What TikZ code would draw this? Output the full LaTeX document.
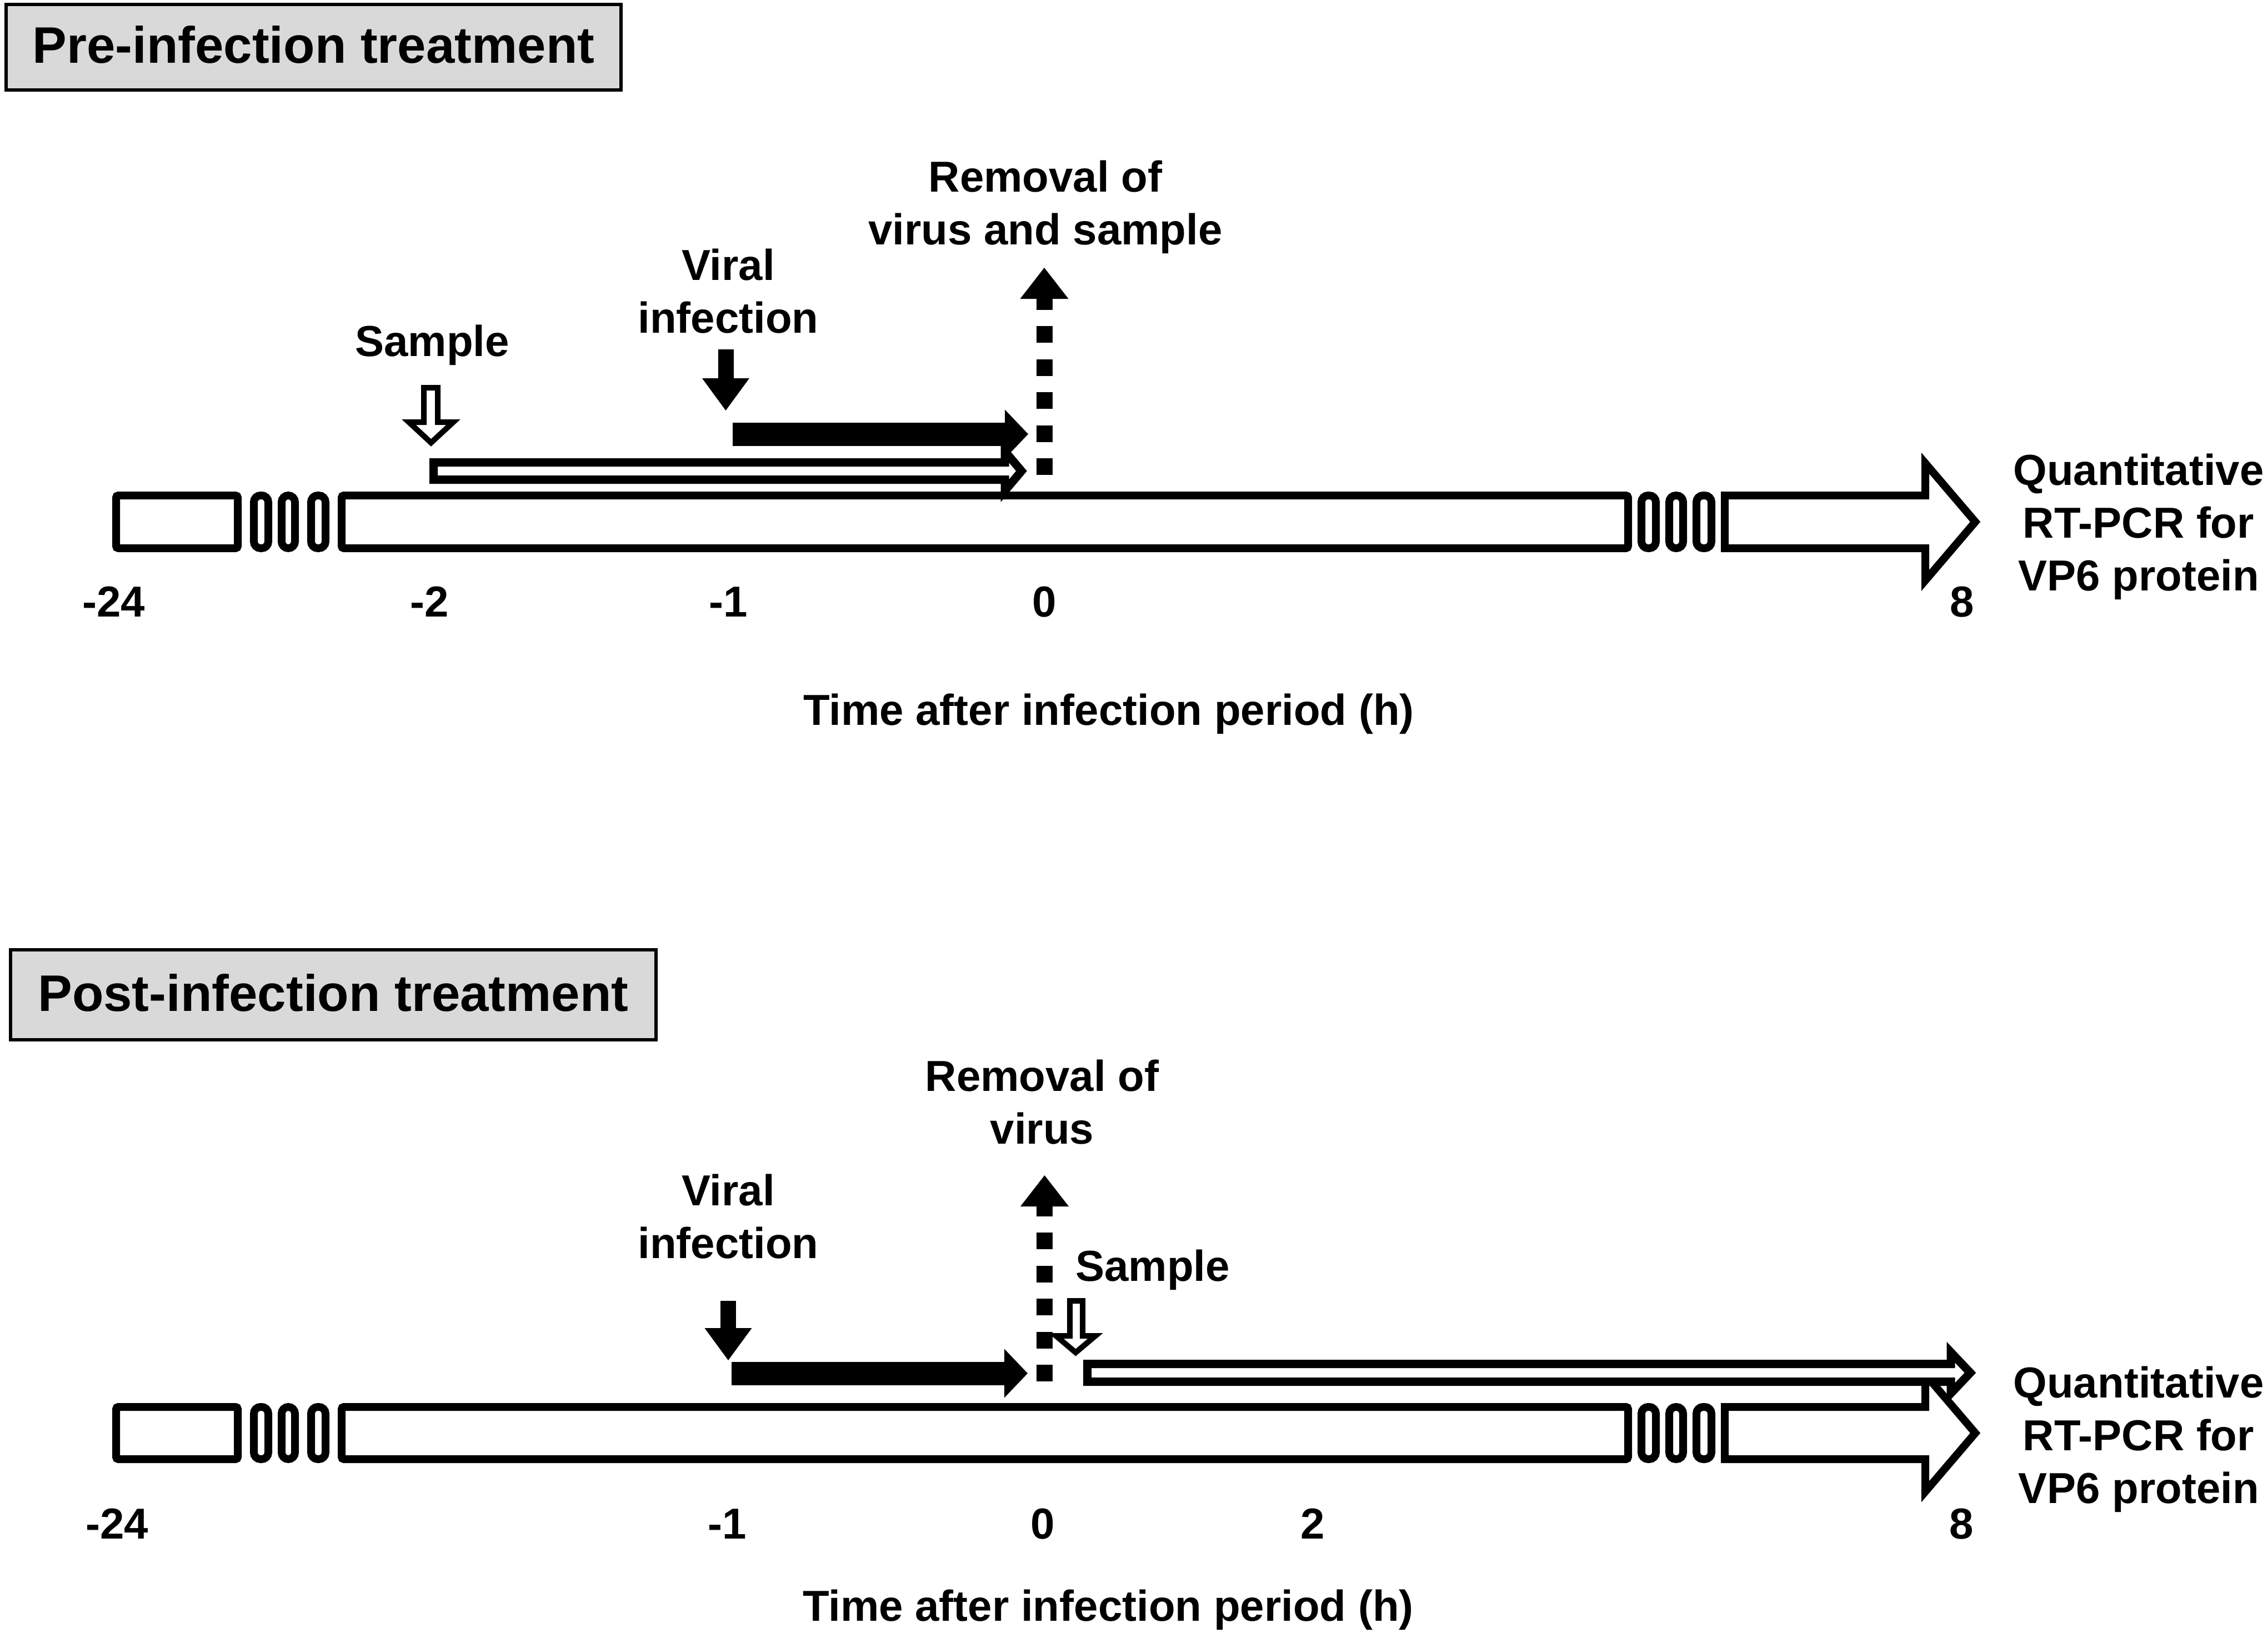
\documentclass[tikz,border=0pt]{standalone}
\usepackage{fontspec}
\setmainfont{Liberation Sans}
\usepackage{tikz}
\usetikzlibrary{arrows.meta}

\begin{document}
\begin{tikzpicture}[x=1mm, y=-1mm, line join=miter,
title_style/.style={draw=black, line width=0.6mm, fill=gray!30, inner sep=0pt, text height=6.8mm, text depth=1mm, font=\fontsize{26.3}{31}\selectfont\bfseries},
label_style/.style={inner sep=0pt, align=center, font=\fontsize{22.2}{27}\selectfont\bfseries},
bar_style/.style={draw=black, line width=1.4mm, fill=white, rounded corners=0.4mm},
brk_style/.style={draw=black, line width=1.4mm, fill=white, rounded corners=1.2mm},
open_style/.style={draw=black, line width=1.4mm, fill=white},
hollow_style/.style={draw=black, line width=1mm, fill=white},
band_style/.style={draw=black, line width=1.5mm, fill=white},
push_style/.style={draw=black, line width=4.2mm, -{Triangle[length=4.2mm, width=8.8mm, line width=0pt]}},
drop_style/.style={draw=black, line width=2.8mm, -{Triangle[length=5.8mm, width=8.5mm, line width=0pt]}},
dash_style/.style={draw=black, line width=2.9mm, dash pattern=on 3mm off 2.95mm, -{Triangle[length=5.6mm, width=8.7mm, line width=0pt]}}]
\useasboundingbox[fill=white] (0,0) rectangle (408.3,294);

% Pre-infection treatment
\node[title_style, minimum width=110.7mm, minimum height=15.4mm] (pre) at (56.45,8.5) {Pre-infection treatment};

\draw[bar_style] (20.9,89.2) rectangle (42.8,98.7);
\draw[brk_style] (45.7,89.2) rectangle (48.3,98.7);
\draw[brk_style] (50.7,89.2) rectangle (53.1,98.7);
\draw[brk_style] (56.0,89.2) rectangle (58.6,98.7);
\draw[bar_style] (61.5,89.2) rectangle (293.1,98.7);
\draw[brk_style] (295.5,89.2) rectangle (298.1,98.7);
\draw[brk_style] (300.5,89.2) rectangle (303.0,98.7);
\draw[brk_style] (305.4,89.2) rectangle (308.1,98.7);
\draw[open_style] (310.5,89.2) -- (346.6,89.2) -- (346.6,83.4) -- (355.6,93.95) -- (346.6,104.5) -- (346.6,98.7) -- (310.5,98.7) -- cycle;

\draw[band_style] (78.05,83.25) -- (180.9,83.25) -- (180.9,81.25) -- (183.9,84.8) -- (180.9,88.35) -- (180.9,86.35) -- (78.05,86.35) -- cycle;
\draw[hollow_style] (76.3,69.8) -- (78.8,69.8) -- (78.8,76.0) -- (81.6,76.0) -- (77.6,79.7) -- (73.6,76.0) -- (76.3,76.0) -- cycle;

\coordinate (vi1a) at (130.65,62.9);
\coordinate (vi1b) at (130.65,73.9);
\coordinate (in1a) at (131.9,78.15);
\coordinate (in1b) at (185.1,78.15);
\coordinate (rm1a) at (188.0,85.5);
\coordinate (rm1b) at (188.0,48.2);
\draw[drop_style] (vi1a) -- (vi1b);
\draw[push_style] (in1a) -- (in1b);
\draw[dash_style] (rm1a) -- (rm1b);

\node[label_style, anchor=north] (rem1) at (188.2,28.8) {Removal of\\virus and sample};
\node[label_style, anchor=north] (vir1) at (131.1,44.7) {Viral\\infection};
\node[label_style, anchor=base] (smp1) at (77.8,64.1) {Sample};
\node[label_style, anchor=north] (qrt1) at (385.0,81.6) {Quantitative\\RT-PCR for\\VP6 protein};

\node[label_style, anchor=base] (t1a) at (20.5,111.0) {-24};
\node[label_style, anchor=base] (t1b) at (77.3,111.0) {-2};
\node[label_style, anchor=base] (t1c) at (131.1,111.0) {-1};
\node[label_style, anchor=base] (t1d) at (188.0,111.0) {0};
\node[label_style, anchor=base] (t1e) at (353.2,111.0) {8};
\node[label_style, anchor=base] (time1) at (199.6,130.5) {Time after infection period (h)};

% Post-infection treatment
\node[title_style, minimum width=116.2mm, minimum height=16.2mm] (post) at (60.0,179.1) {Post-infection treatment};

\draw[bar_style] (20.9,253.3) rectangle (42.8,262.7);
\draw[brk_style] (45.7,253.3) rectangle (48.3,262.7);
\draw[brk_style] (50.7,253.3) rectangle (53.1,262.7);
\draw[brk_style] (56.0,253.3) rectangle (58.6,262.7);
\draw[bar_style] (61.5,253.3) rectangle (293.1,262.7);
\draw[brk_style] (295.5,253.3) rectangle (298.1,262.7);
\draw[brk_style] (300.5,253.3) rectangle (303.0,262.7);
\draw[brk_style] (305.4,253.3) rectangle (308.1,262.7);
\draw[open_style] (310.5,253.3) -- (346.6,253.3) -- (346.6,247.45) -- (355.6,258.0) -- (346.6,268.55) -- (346.6,262.7) -- (310.5,262.7) -- cycle;

\draw[band_style] (195.75,245.55) -- (351.2,245.55) -- (351.2,243.45) -- (354.7,247.15) -- (351.2,250.85) -- (351.2,248.75) -- (195.75,248.75) -- cycle;
\draw[hollow_style] (192.6,234.2) -- (194.9,234.2) -- (194.9,240.5) -- (197.2,240.5) -- (193.65,243.5) -- (190.1,240.5) -- (192.6,240.5) -- cycle;

\coordinate (vi2a) at (131.1,234.2);
\coordinate (vi2b) at (131.1,244.9);
\coordinate (in2a) at (131.7,247.25);
\coordinate (in2b) at (185.0,247.25);
\coordinate (rm2a) at (188.05,248.7);
\coordinate (rm2b) at (188.05,211.6);
\draw[drop_style] (vi2a) -- (vi2b);
\draw[push_style] (in2a) -- (in2b);
\draw[dash_style] (rm2a) -- (rm2b);

\node[label_style, anchor=north] (rem2) at (187.6,190.7) {Removal of\\virus};
\node[label_style, anchor=north] (vir2) at (131.1,211.3) {Viral\\infection};
\node[label_style, anchor=base] (smp2) at (207.5,230.6) {Sample};
\node[label_style, anchor=north] (qrt2) at (385.0,245.9) {Quantitative\\RT-PCR for\\VP6 protein};

\node[label_style, anchor=base] (t2a) at (21.1,277.0) {-24};
\node[label_style, anchor=base] (t2b) at (130.9,277.0) {-1};
\node[label_style, anchor=base] (t2c) at (187.7,277.0) {0};
\node[label_style, anchor=base] (t2d) at (236.3,277.0) {2};
\node[label_style, anchor=base] (t2e) at (353.1,277.0) {8};
\node[label_style, anchor=base] (time2) at (199.5,291.8) {Time after infection period (h)};

\end{tikzpicture}
\end{document}
